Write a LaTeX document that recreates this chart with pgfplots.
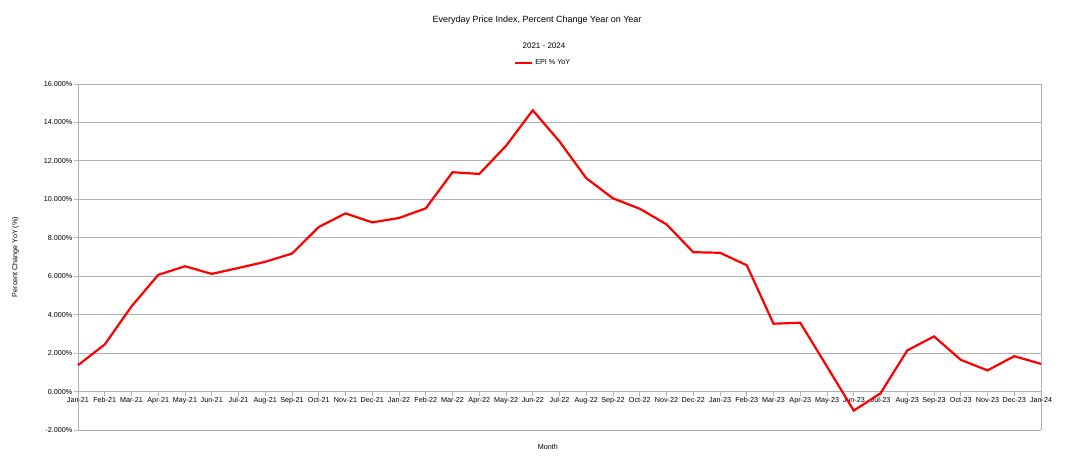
\documentclass[border=0pt]{standalone}
\usepackage{fontspec}
\setmainfont{Liberation Sans}
\usepackage{pgfplots}
\pgfplotsset{compat=1.18}
\definecolor{gridgray}{HTML}{B3B3B3}
\newcommand\smallf{\fontsize{7.2bp}{8.6bp}\selectfont}
\begin{document}
\begin{tikzpicture}[x=1bp,y=1bp]
\path[use as bounding box] (0,0) rectangle (1075,-465);
\node[font=\fontsize{9bp}{11bp}\selectfont] at (537,-20) {Everyday Price Index, Percent Change Year on Year};
\node[font=\fontsize{8bp}{10bp}\selectfont] at (544,-46) {2021 - 2024};
\begin{axis}[
  at={(78bp,-430bp)}, anchor=south west,
  scale only axis, width=963bp, height=346bp,
  xmin=0, xmax=36, ymin=-2, ymax=16,
  axis x line=middle, axis y line=box,
  hide obscured x ticks=false, hide obscured y ticks=false,
  axis line style={-, draw=gridgray, line width=0.9bp},
  every inner x axis line/.append style={-},
  every outer y axis line/.append style={-},
  xtick={0,...,36},
  xticklabels={Jan-21,Feb-21,Mar-21,Apr-21,May-21,Jun-21,Jul-21,Aug-21,Sep-21,Oct-21,Nov-21,Dec-21,Jan-22,Feb-22,Mar-22,Apr-22,May-22,Jun-22,Jul-22,Aug-22,Sep-22,Oct-22,Nov-22,Dec-22,Jan-23,Feb-23,Mar-23,Apr-23,May-23,Jun-23,Jul-23,Aug-23,Sep-23,Oct-23,Nov-23,Dec-23,Jan-24},
  ytick={-2,0,...,16},
  ytick pos=left,
  tick align=outside,
  major tick length=4bp,
  tick style={draw=gridgray, line width=0.8bp},
  ymajorgrids=true,
  grid style={draw=gridgray, line width=0.9bp},
  /pgf/number format/assume math mode=true,
  yticklabel={\pgfmathprintnumber[fixed,fixed zerofill,precision=3]{\tick}\%},
  tick label style={font=\smallf, text=black},
  x tick label style={inner sep=1.5bp},
  y tick label style={inner sep=1.5bp},
  xlabel={Month},
  ylabel={Percent Change YoY (\%)},
  label style={font=\smallf},
  x label style={at={(axis description cs:0.488,-0.05)}, anchor=center},
  y label style={at={(axis description cs:-0.065,0.5)}, anchor=center},
  legend style={at={(0.483,1.061)}, anchor=center, draw=none, fill=none, font=\smallf, inner sep=1bp},
  legend image post style={line width=2.2bp},
  legend cell align=left,
  clip=false,
]
\addplot[red, line width=2.2bp, line join=miter] coordinates {
(0,1.37) (1,2.45) (2,4.43) (3,6.07) (4,6.52) (5,6.12) (6,6.43) (7,6.75) (8,7.18) (9,8.56)
(10,9.27) (11,8.80) (12,9.03) (13,9.53) (14,11.41) (15,11.32) (16,12.78) (17,14.63) (18,13.01) (19,11.10)
(20,10.05) (21,9.51) (22,8.70) (23,7.25) (24,7.22) (25,6.57) (26,3.53) (27,3.58) (28,1.30) (29,-0.99)
(30,-0.09) (31,2.14) (32,2.87) (33,1.65) (34,1.10) (35,1.84) (36,1.44)
};
\addlegendentry{EPI \% YoY}
\end{axis}
\end{tikzpicture}
\end{document}
